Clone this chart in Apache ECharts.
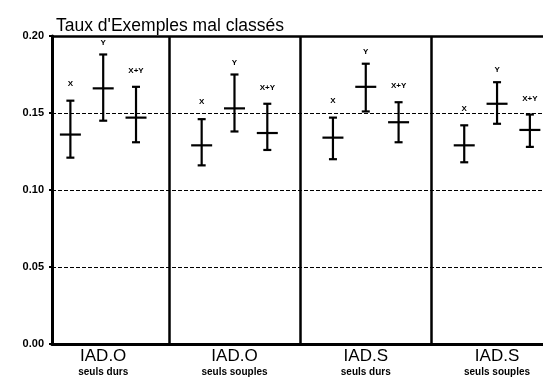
<!DOCTYPE html>
<html>
<head>
<meta charset="utf-8">
<script src="https://cdn.jsdelivr.net/npm/echarts@6/dist/echarts.min.js"></script>
<style>html,body{margin:0;padding:0;background:#fff;}#c{width:543px;height:379px;}</style>
</head>
<body>
<div id="c"></div>
<script>
const titleText = "Taux d'Exemples mal classés";
const groups = ['IAD.O', 'IAD.O', 'IAD.S', 'IAD.S'];
const subtitles = ['seuls durs', 'seuls souples', 'seuls durs', 'seuls souples'];
const methods = ['X', 'Y', 'X+Y'];
const methodOffset = [0.25, 0.5, 0.75];
const centers = [0.136, 0.166, 0.147, 0.129, 0.153, 0.137, 0.134, 0.167, 0.144, 0.129, 0.156, 0.139];
const lows    = [0.121, 0.145, 0.131, 0.116, 0.138, 0.126, 0.120, 0.151, 0.131, 0.118, 0.143, 0.128];
const highs   = [0.158, 0.188, 0.167, 0.146, 0.175, 0.156, 0.147, 0.182, 0.157, 0.142, 0.170, 0.149];
const yTicks = [0, 0.05, 0.10, 0.15, 0.20];

const data = [];
for (let g = 0; g < groups.length; g++) {
  for (let m = 0; m < methods.length; m++) {
    const i = g * methods.length + m;
    data.push([g + methodOffset[m], centers[i], lows[i], highs[i], methods[m]]);
  }
}
const FONT = '"Liberation Sans", Arial, sans-serif';
const labelGap = [17, 12, 16];

const chart = echarts.init(document.getElementById('c'));
chart.setOption({
  animation: false,
  backgroundColor: '#fff',
  title: {
    text: titleText, left: 51, top: 12,
    textStyle: { fontFamily: FONT, fontSize: 17.5, fontWeight: 'normal', color: '#000' }
  },
  grid: { left: 52, right: 0, top: 36, bottom: 35 },
  xAxis: {
    type: 'value', min: 0.11, max: 3.85,
    axisLine: { show: true, onZero: false, lineStyle: { color: '#000', width: 3 } },
    axisTick: { show: false },
    splitLine: { show: false },
    axisLabel: {
      customValues: groups.map((_, g) => g + 0.5),
      margin: 4,
      formatter: function (v) {
        const g = Math.round(v - 0.5);
        return '{a|' + groups[g] + '}\n{s|' + subtitles[g] + '}';
      },
      rich: {
        a: { fontFamily: FONT, fontSize: 17, color: '#000', lineHeight: 17 },
        s: { fontFamily: FONT, fontSize: 10, fontWeight: 'bold', color: '#000', lineHeight: 14 }
      }
    }
  },
  yAxis: {
    type: 'value', min: 0, max: 0.2, interval: 0.05,
    axisLine: { show: true, lineStyle: { color: '#000', width: 3 } },
    axisTick: { show: true, length: 3, lineStyle: { color: '#000', width: 2 } },
    axisLabel: {
      formatter: v => v.toFixed(2), margin: 8,
      fontFamily: FONT, fontSize: 11, fontWeight: 'bold', color: '#000'
    },
    splitLine: { show: true, lineStyle: { color: '#000', width: 1, type: [4, 2] } }
  },
  series: [{
    type: 'custom',
    clip: false,
    data: data,
    encode: { x: 0, y: 1 },
    renderItem: function (params, api) {
      const x = api.value(0);
      const m = params.dataIndex % methods.length;
      const pc = api.coord([x, api.value(1)]);
      const plo = api.coord([x, api.value(2)]);
      const phi = api.coord([x, api.value(3)]);
      const st = { stroke: '#000', lineWidth: 2.2 };
      const cap = 4, half = 10.5;
      return {
        type: 'group',
        children: [
          { type: 'line', shape: { x1: pc[0], y1: phi[1], x2: pc[0], y2: plo[1] }, style: st },
          { type: 'line', shape: { x1: pc[0] - cap, y1: phi[1], x2: pc[0] + cap, y2: phi[1] }, style: st },
          { type: 'line', shape: { x1: pc[0] - cap, y1: plo[1], x2: pc[0] + cap, y2: plo[1] }, style: st },
          { type: 'line', shape: { x1: pc[0] - half, y1: pc[1], x2: pc[0] + half, y2: pc[1] }, style: st },
          { type: 'text', style: {
              x: pc[0], y: phi[1] - labelGap[m], text: methods[m],
              align: 'center', verticalAlign: 'middle',
              font: 'bold 8px ' + FONT, fill: '#000' } }
        ]
      };
    },
    markLine: {
      silent: true, symbol: 'none', label: { show: false },
      lineStyle: { color: '#000', width: 2.5, type: 'solid' },
      data: [{ xAxis: 1 }, { xAxis: 2 }, { xAxis: 3 }, { yAxis: yTicks[yTicks.length - 1] }]
    }
  }]
});
</script>
</body>
</html>
